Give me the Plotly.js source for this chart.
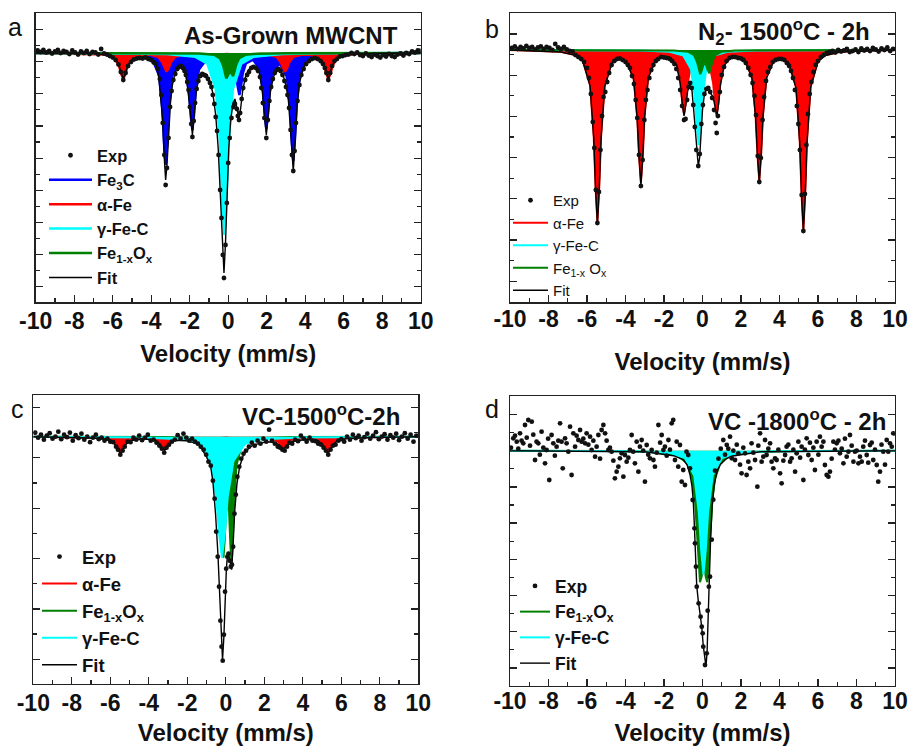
<!DOCTYPE html>
<html><head><meta charset="utf-8">
<script src="https://cdn.plot.ly/plotly-3.0.1.min.js"></script>
<style>html,body{margin:0;padding:0;background:#fff}#chart{width:909px;height:746px}</style>
</head><body><div id="chart"></div>
<script>
// ---------- tick labels ----------
const velTicks = [-10,-8,-6,-4,-2,0,2,4,6,8,10];
const velTickText = ['-10','-8','-6','-4','-2','0','2','4','6','8','10'];

// ---------- Panel a : As-Grown MWCNT  ([velocity mm/s, relative transmission %]) ----------
const expA = [[-9.9,100.25],[-9.75,100.1],[-9.6,100.3],[-9.45,100.05],[-9.3,100.2],[-9.15,99.95],[-9.0,100.15],[-8.85,100.3],[-8.7,100.0],[-8.55,100.2],[-8.4,100.1],[-8.25,99.9],[-8.1,100.25],[-7.95,100.05],[-7.8,99.85],[-7.65,100.15],[-7.5,100.0],[-7.35,100.2],[-7.2,99.9],[-7.05,100.1],[-6.9,100.05],[-6.75,99.85],[-6.6,100.4],[-6.45,99.95],
[-6.3,99.85],[-6.15,99.7],[-6.0,99.55],[-5.85,99.3],[-5.7,98.85],[-5.58,98.1],[-5.45,97.3],[-5.33,98.0],[-5.2,98.7],[-5.05,99.1],[-4.9,99.35],[-4.75,99.45],[-4.6,99.5],[-4.45,99.45],[-4.3,99.55],[-4.15,99.4],[-4.0,99.3],[-3.87,99.05],[-3.75,98.9],[-3.65,98.4],[-3.55,97.4],[-3.47,95.8],[-3.4,93.0],[-3.32,89.8],[-3.25,86.8],[-3.18,88.5],[-3.1,91.5],[-3.02,94.6],[-2.94,96.2],[-2.85,97.3],[-2.75,97.9],[-2.65,98.4],[-2.55,98.6],[-2.45,98.7],[-2.35,98.5],[-2.27,98.2],[-2.2,97.8],[-2.13,97.1],[-2.06,96.3],[-1.99,94.6],[-1.92,92.9],[-1.86,91.6],[-1.79,93.2],[-1.72,95.0],[-1.64,96.4],[-1.55,97.2],[-1.45,97.7],[-1.35,97.9],[-1.25,97.8],[-1.15,97.7],[-1.05,97.4],[-0.95,97.0],[-0.87,96.6],[-0.8,95.8],[-0.72,94.9],[-0.65,93.6],[-0.58,92.2],[-0.5,89.8],[-0.42,86.3],[-0.35,83.5],[-0.28,79.8],[-0.22,77.5],[-0.14,80.8],[-0.07,85.0],[0.0,89.0],[0.08,91.5],[0.17,93.5],[0.27,94.6],[0.35,94.9],[0.45,94.4],[0.5,93.7],[0.56,93.3],[0.62,94.0],[0.7,95.4],[0.78,96.5],[0.88,97.3],[0.98,97.8],[1.08,98.1],[1.2,98.5],[1.32,98.6],[1.45,98.5],[1.55,98.2],[1.65,97.6],[1.72,96.5],[1.8,95.0],[1.88,93.5],[1.98,91.5],[2.06,93.3],[2.14,95.2],[2.23,96.6],[2.32,97.4],[2.42,98.0],[2.52,98.3],[2.62,98.4],[2.72,98.2],[2.82,97.8],[2.92,97.2],[3.0,96.6],[3.08,95.8],[3.16,94.5],[3.24,92.3],[3.31,89.8],[3.38,88.2],[3.45,90.2],[3.52,93.0],[3.6,95.2],[3.7,96.8],[3.8,97.8],[3.92,98.4],[4.05,98.9],[4.2,99.2],[4.35,99.4],[4.5,99.5],[4.65,99.4],[4.8,99.2],[4.92,98.9],[5.02,98.5],[5.1,98.0],[5.2,97.3],[5.3,98.0],[5.4,98.7],[5.52,99.2],[5.65,99.4],[5.8,99.65],[5.95,99.7],[6.1,99.8],[6.25,99.85],[6.4,100.0],
[6.55,99.9],[6.7,100.05],[6.85,99.8],[7.0,99.7],[7.15,99.95],[7.3,99.75],[7.45,99.6],[7.6,99.85],[7.75,99.7],[7.9,99.55],[8.05,99.8],[8.2,99.65],[8.35,99.9],[8.5,99.7],[8.65,99.6],[8.8,99.85],[8.95,99.95],[9.1,99.75],[9.25,100.0],[9.4,99.9],[9.55,100.15],[9.7,100.05],[9.85,100.25],[9.97,100.2]];
const fitA = [[-10,100],[-8,99.97],[-7,99.94],[-6.5,99.85],[-6.1,99.65],[-5.85,99.35],[-5.7,98.9],[-5.58,98.2],[-5.45,97.4],[-5.33,98.1],[-5.2,98.8],[-5.05,99.25],[-4.85,99.5],[-4.5,99.6],[-4.2,99.57],[-3.95,99.4],[-3.75,99.0],[-3.6,97.5],[-3.5,95.5],[-3.4,93.2],[-3.32,89.5],[-3.25,87.3],[-3.18,88.8],[-3.1,91.8],[-3.0,95.0],[-2.9,96.8],[-2.75,98.1],[-2.55,98.7],[-2.35,98.6],[-2.2,98.0],[-2.08,96.3],[-1.97,94.2],[-1.86,91.8],[-1.76,94.0],[-1.66,96.2],[-1.52,97.5],[-1.35,98.0],[-1.15,97.9],[-0.95,97.2],[-0.8,96.0],[-0.65,93.8],[-0.52,90.5],[-0.42,86.5],[-0.32,81.5],[-0.22,78.0],[-0.14,81.0],[-0.06,86.0],[0.03,90.5],[0.13,93.3],[0.25,95.0],[0.35,95.4],[0.45,94.6],[0.56,93.5],[0.65,94.5],[0.75,96.2],[0.88,97.5],[1.05,98.3],[1.25,98.7],[1.45,98.6],[1.62,98.0],[1.77,96.2],[1.88,93.8],[1.98,91.8],[2.08,93.8],[2.2,96.2],[2.35,97.6],[2.52,98.4],[2.7,98.3],[2.85,97.8],[3.0,96.8],[3.13,95.2],[3.25,92.0],[3.38,88.2],[3.48,91.2],[3.58,94.8],[3.7,97.0],[3.9,98.5],[4.15,99.2],[4.45,99.5],[4.7,99.4],[4.9,99.1],[5.02,98.6],[5.1,98.1],[5.2,97.4],[5.3,98.1],[5.42,98.8],[5.6,99.35],[5.85,99.65],[6.3,99.82],[7,99.93],[8,99.97],[10,100]];
const fe3cA = [[-10,100],[-6,99.95],[-4.6,99.8],[-3.93,99.34],[-3.59,97.76],[-3.42,94.4],[-3.335,91.04],[-3.25,88.8],[-3.165,91.04],[-3.08,94.4],[-2.91,97.76],[-2.55,98.9],[-2.2,98.17],[-2.03,95.95],[-1.945,93.7],[-1.86,92.3],[-1.775,93.84],[-1.69,96.15],[-1.52,98.36],[-1.15,99.3],[-0.79,99.06],[-0.62,97.9],[-0.535,96.64],[-0.45,95.8],[-0.365,96.64],[-0.28,97.9],[-0.11,98.92],[0.065,99.18],[0.24,98.92],[0.41,97.9],[0.495,96.64],[0.58,95.8],[0.665,96.64],[0.75,97.9],[0.92,98.97],[1.3,99.33],[1.64,98.38],[1.81,96.2],[1.895,93.92],[1.98,92.4],[2.065,93.92],[2.15,96.2],[2.32,98.21],[2.68,98.95],[3.04,97.67],[3.21,94.6],[3.295,91.36],[3.38,89.2],[3.465,91.36],[3.55,94.6],[3.72,97.84],[4.06,99.36],[4.8,99.82],[6,99.95],[10,100]];
const alphaFeA = [[-10,100],[-7.2,99.94],[-6.33,99.85],[-5.89,99.48],[-5.67,98.7],[-5.56,97.92],[-5.45,97.4],[-5.34,97.92],[-5.23,98.7],[-5.01,99.48],[-4.57,99.82],[-4.08,99.85],[-3.64,99.63],[-3.42,99.07],[-3.31,98.5],[-3.2,98.13],[-3.09,98.5],[-2.98,99.07],[-2.76,99.63],[-2.32,99.87],[-1.83,99.9],[-1.39,99.82],[-1.17,99.6],[-1.06,99.36],[-0.95,99.2],[-0.84,99.36],[-0.73,99.6],[-0.51,99.82],[-0.07,99.9],[0.36,99.82],[0.58,99.6],[0.69,99.36],[0.8,99.2],[0.91,99.36],[1.02,99.6],[1.24,99.82],[1.68,99.9],[2.07,99.87],[2.51,99.63],[2.73,99.07],[2.84,98.5],[2.95,98.13],[3.06,98.5],[3.17,99.07],[3.39,99.63],[3.83,99.85],[4.32,99.82],[4.76,99.48],[4.98,98.7],[5.09,97.92],[5.2,97.4],[5.31,97.92],[5.42,98.7],[5.64,99.48],[6.08,99.85],[7,99.94],[10,100]];
const gammaFeCA = [[-10,100],[-5,99.97],[-3.2,99.9],[-1.7,99.62],[-1.08,98.93],[-0.64,96.36],[-0.42,90.9],[-0.31,85.44],[-0.2,81.8],[-0.09,85.44],[0.02,90.9],[0.24,96.36],[0.68,98.93],[1.3,99.62],[2.8,99.9],[5,99.97],[10,100]];
const feOxA = [[-10,100],[-3,99.98],[-1.5,99.95],[-0.74,99.82],[-0.42,99.45],[-0.26,98.73],[-0.18,98.02],[-0.1,97.45],[0,97.84],[0.075,98.09],[0.17,97.97],[0.25,97.68],[0.33,98.15],[0.41,98.8],[0.57,99.48],[0.89,99.82],[1.5,99.93],[3,99.98],[10,100]];

// ---------- Panel b : N2 - 1500 C - 2h ----------
const expB = [[-9.9,100.2],[-9.75,100.35],[-9.6,100.1],[-9.45,100.3],[-9.3,100.15],[-9.15,100.4],[-9.0,100.2],[-8.85,100.3],[-8.7,100.05],[-8.55,100.25],[-8.4,100.35],[-8.25,100.1],[-8.1,100.3],[-7.95,100.2],[-7.8,100.0],[-7.65,100.6],[-7.5,100.25],[-7.35,100.1],[-7.2,100.3],[-7.05,100.05],[-6.9,99.9],[-6.75,99.85],
[-6.6,99.5],[-6.45,99.3],[-6.3,99.1],[-6.15,98.8],[-6.0,98.2],[-5.9,97.2],[-5.8,95.6],[-5.7,92.8],[-5.62,90.2],[-5.54,86.0],[-5.46,82.7],[-5.38,85.8],[-5.3,90.0],[-5.22,93.4],[-5.14,95.3],[-5.05,95.8],[-4.95,96.8],[-4.85,97.7],[-4.72,98.5],[-4.58,98.9],[-4.45,99.1],[-4.3,99.15],[-4.15,99.0],[-4.0,98.8],[-3.88,98.5],[-3.77,98.2],[-3.66,97.4],[-3.56,96.6],[-3.47,95.0],[-3.39,93.2],[-3.3,89.5],[-3.2,86.4],[-3.11,89.0],[-3.02,93.0],[-2.94,95.0],[-2.86,96.0],[-2.76,97.2],[-2.66,98.0],[-2.55,98.5],[-2.42,98.9],[-2.3,99.1],[-2.15,99.3],[-2.0,99.25],[-1.85,99.2],[-1.7,99.1],[-1.58,98.9],[-1.46,98.6],[-1.36,98.1],[-1.26,97.2],[-1.16,96.0],[-1.06,94.4],[-0.96,93.0],[-0.88,93.1],[-0.8,95.0],[-0.72,96.3],[-0.64,96.7],[-0.56,96.2],[-0.48,94.5],[-0.4,92.3],[-0.32,90.0],[-0.22,88.4],[-0.14,89.6],[-0.06,92.6],[0.02,94.5],[0.1,95.6],[0.2,96.1],[0.3,96.2],[0.4,95.8],[0.5,95.2],[0.6,94.0],[0.68,92.7],[0.74,91.7],[0.8,93.4],[0.9,95.8],[1.0,97.5],[1.12,98.3],[1.25,98.9],[1.4,99.2],[1.55,99.3],[1.7,99.3],[1.85,99.2],[2.0,99.15],[2.12,99.0],[2.25,98.7],[2.38,98.2],[2.5,97.5],[2.6,96.7],[2.7,95.4],[2.78,93.5],[2.87,89.4],[2.95,86.8],[3.03,89.2],[3.12,93.0],[3.2,95.3],[3.3,96.9],[3.4,97.8],[3.52,98.3],[3.65,98.8],[3.8,99.0],[3.95,99.1],[4.1,99.1],[4.25,99.0],[4.38,98.7],[4.5,98.4],[4.6,97.9],[4.7,97.2],[4.8,96.0],[4.9,94.4],[4.98,92.6],[5.06,90.0],[5.15,85.5],[5.24,81.9],[5.32,85.6],[5.4,90.5],[5.48,93.6],[5.57,95.6],[5.66,96.8],[5.76,97.8],[5.88,98.5],[6.0,98.9],[6.15,99.3],[6.3,99.5],[6.45,99.7],[6.6,99.8],
[6.75,99.9],[6.9,99.75],[7.05,100.0],[7.2,99.85],[7.35,99.95],[7.5,100.1],[7.65,99.8],[7.8,99.9],[7.95,100.05],[8.1,99.8],[8.25,100.15],[8.4,99.95],[8.55,100.1],[8.7,99.9],[8.85,100.2],[9.0,100.05],[9.15,99.85],[9.3,100.15],[9.45,100.0],[9.6,100.25],[9.75,99.9],[9.9,100.1]];
const fitB = [[-10,100],[-8,99.88],[-7.36,99.8],[-6.6,99.47],[-6.22,98.88],[-5.84,96.42],[-5.65,91.2],[-5.555,86.1],[-5.46,82.6],[-5.365,86.1],[-5.27,91.2],[-5.08,96.35],[-4.7,98.75],[-4.33,99.1],[-3.96,98.9],[-3.58,97.1],[-3.39,93.1],[-3.295,89.25],[-3.2,86.5],[-3.105,89.25],[-3.01,93.25],[-2.82,97.2],[-2.44,99.0],[-2.08,99.33],[-1.72,99.3],[-1.34,98.5],[-1.15,96.6],[-1.055,94.7],[-0.96,93.4],[-0.865,94.5],[-0.77,95.9],[-0.65,96.6],[-0.55,96.0],[-0.45,93.8],[-0.35,91.2],[-0.28,89.6],[-0.22,88.4],[-0.15,89.2],[-0.08,91.8],[0.0,94.0],[0.1,95.6],[0.2,96.1],[0.3,96.2],[0.36,96.1],[0.45,95.6],[0.55,95.3],[0.645,94.4],[0.74,93.3],[0.835,94.6],[0.93,96.5],[1.12,98.45],[1.5,99.3],[1.86,99.32],[2.19,99.0],[2.57,97.2],[2.76,93.25],[2.855,89.4],[2.95,86.8],[3.045,89.4],[3.14,93.35],[3.33,97.2],[3.71,98.95],[4.1,99.1],[4.48,98.7],[4.86,96.2],[5.05,90.8],[5.145,85.5],[5.24,81.9],[5.335,85.5],[5.43,90.8],[5.62,96.3],[6.0,98.85],[6.38,99.45],[7.14,99.8],[8,99.88],[10,100]];
const alphaFeB = [[-10,100],[-8,99.9],[-7.36,99.82],[-6.6,99.5],[-6.22,98.93],[-5.84,96.49],[-5.65,91.32],[-5.555,86.24],[-5.46,82.8],[-5.365,86.24],[-5.27,91.3],[-5.08,96.44],[-4.7,98.8],[-4.33,99.14],[-3.96,98.94],[-3.58,97.17],[-3.39,93.2],[-3.295,89.36],[-3.2,86.7],[-3.105,89.36],[-3.01,93.35],[-2.82,97.28],[-2.44,99.07],[-2.08,99.4],[-1.72,99.41],[-1.34,98.61],[-1.15,96.75],[-1.055,94.86],[-0.96,93.55],[-0.865,94.81],[-0.77,96.7],[-0.58,98.54],[-0.11,99.4],[0.36,98.6],[0.55,96.7],[0.645,94.8],[0.74,93.55],[0.835,94.8],[0.93,96.7],[1.12,98.54],[1.5,99.36],[1.86,99.38],[2.19,99.06],[2.57,97.3],[2.76,93.35],[2.855,89.52],[2.95,86.9],[3.045,89.52],[3.14,93.45],[3.33,97.31],[3.71,99.03],[4.1,99.16],[4.48,98.76],[4.86,96.28],[5.05,90.9],[5.145,85.6],[5.24,82.0],[5.335,85.6],[5.43,91.0],[5.62,96.35],[6.0,98.9],[6.38,99.48],[7.14,99.82],[8,99.9],[10,100]];
const gammaFeCB = [[-10,100],[-3.2,99.96],[-1.7,99.83],[-1.0,99.44],[-0.6,98.1],[-0.4,95.25],[-0.3,92.4],[-0.2,90.5],[-0.1,92.4],[0,95.25],[0.2,98.1],[0.6,99.44],[1.3,99.83],[2.8,99.96],[10,100]];
const feOxB = [[-10,100],[-3,99.985],[-1.5,99.955],[-0.76,99.83],[-0.44,99.48],[-0.28,98.77],[-0.2,98.08],[-0.12,97.58],[-0.04,97.94],[0.04,98.46],[0.115,98.67],[0.19,98.48],[0.27,97.99],[0.35,97.67],[0.43,98.15],[0.51,98.81],[0.67,99.48],[0.99,99.82],[1.7,99.95],[3,99.985],[10,100]];

// ---------- Panel c : VC - 1500 C - 2h ----------
const expC = [[-9.9,100.4],[-9.75,99.9],[-9.6,100.2],[-9.45,99.7],[-9.3,100.1],[-9.15,100.35],[-9.0,99.8],[-8.85,100.0],[-8.7,100.5],[-8.55,99.75],[-8.4,100.2],[-8.25,99.95],[-8.1,100.4],[-7.95,99.6],[-7.8,100.15],[-7.65,99.85],[-7.5,100.3],[-7.35,99.7],[-7.2,100.0],[-7.05,99.45],[-6.9,99.9],[-6.75,100.2],[-6.6,99.75],[-6.45,99.9],[-6.3,99.6],[-6.15,99.8],[-6.0,99.5],[-5.85,99.45],[-5.7,99.0],[-5.6,98.7],[-5.48,98.2],[-5.36,98.6],[-5.25,99.0],[-5.1,99.5],[-4.95,99.45],[-4.8,99.9],[-4.65,99.7],[-4.5,100.1],[-4.35,99.65],[-4.2,99.9],[-4.05,100.2],[-3.9,99.6],[-3.75,99.7],[-3.6,99.4],[-3.45,99.1],[-3.32,98.8],[-3.2,98.4],[-3.08,98.9],[-2.95,99.2],[-2.8,99.5],[-2.65,99.7],[-2.5,100.15],[-2.35,99.8],[-2.2,100.3],[-2.05,99.9],[-1.9,99.6],[-1.75,99.8],[-1.6,99.5],[-1.45,99.3],[-1.3,99.0],[-1.15,98.7],[-1.02,98.2],[-0.9,97.5],[-0.78,97.1],[-0.67,95.6],[-0.58,93.8],[-0.5,90.5],[-0.42,88.0],[-0.35,85.0],[-0.28,81.6],[-0.22,79.0],[-0.16,77.6],[-0.1,80.2],[-0.04,84.5],[0.02,86.8],[0.08,88.0],[0.14,88.3],[0.2,87.6],[0.26,87.0],[0.32,87.2],[0.38,89.0],[0.45,92.3],[0.52,94.2],[0.6,96.0],[0.7,97.0],[0.8,97.8],[0.92,98.3],[1.05,98.6],[1.2,99.0],[1.35,99.4],[1.5,99.1],[1.65,99.6],[1.8,99.3],[1.95,99.8],[2.1,99.5],[2.25,100.7],[2.4,99.6],[2.55,99.3],[2.7,99.0],[2.82,98.9],[2.94,98.7],[3.06,98.6],[3.18,99.0],[3.3,99.4],[3.45,99.3],[3.6,99.7],[3.75,99.55],[3.9,100.1],[4.05,99.8],[4.2,99.5],[4.35,99.9],[4.5,99.6],[4.65,99.55],[4.8,99.3],[4.95,99.2],[5.08,98.9],[5.2,98.6],[5.32,98.2],[5.44,98.7],[5.56,99.1],[5.7,99.2],[5.85,99.6],[6.0,99.75],[6.15,99.5],[6.3,100.0],[6.45,99.7],[6.6,100.2],[6.75,99.85],[6.9,100.1],[7.05,99.6],[7.2,99.95],[7.35,100.3],[7.5,99.8],[7.65,100.1],[7.8,100.45],[7.95,99.75],[8.1,100.0],[8.25,100.25],[8.4,99.7],[8.55,100.15],[8.7,99.9],[8.85,100.3],[9.0,99.65],[9.15,100.0],[9.3,100.35],[9.45,99.8],[9.6,100.2],[9.75,99.5],[9.9,100.1]];
const fitC = [[-10,100],[-7.5,99.92],[-6.48,99.85],[-5.98,99.64],[-5.73,99.17],[-5.605,98.69],[-5.48,98.36],[-5.355,98.69],[-5.23,99.17],[-4.98,99.6],[-4.33,99.8],[-3.68,99.66],[-3.43,99.3],[-3.305,98.9],[-3.18,98.64],[-3.055,98.9],[-2.93,99.3],[-2.68,99.65],[-2.05,99.6],[-1.6,99.35],[-1.36,99.15],[-1.01,98.0],[-0.8,97.2],[-0.67,95.5],[-0.53,92.2],[-0.41,88.3],[-0.32,84.0],[-0.25,80.0],[-0.17,77.7],[-0.1,80.0],[-0.03,84.0],[0.03,86.8],[0.08,88.0],[0.15,88.1],[0.22,87.6],[0.3,86.7],[0.37,88.8],[0.46,92.5],[0.58,95.3],[0.72,97.0],[0.9,98.1],[1.06,98.6],[1.4,99.15],[1.76,99.35],[2.1,99.5],[2.5,99.45],[2.75,99.22],[2.875,98.98],[3.0,98.8],[3.125,98.98],[3.25,99.22],[3.5,99.55],[4.15,99.72],[4.8,99.6],[5.05,99.14],[5.175,98.66],[5.3,98.34],[5.425,98.66],[5.55,99.14],[5.8,99.62],[6.3,99.82],[7.5,99.92],[10,100]];
const alphaFeC = [[-10,100],[-7.5,99.94],[-6.48,99.88],[-5.98,99.68],[-5.73,99.2],[-5.605,98.72],[-5.48,98.4],[-5.355,98.72],[-5.23,99.2],[-4.98,99.65],[-4.33,99.86],[-3.68,99.71],[-3.43,99.35],[-3.305,98.96],[-3.18,98.7],[-3.055,98.96],[-2.93,99.35],[-2.68,99.71],[-2.05,99.86],[-1.43,99.86],[-1.18,99.7],[-1.055,99.52],[-0.93,99.4],[-0.805,99.52],[-0.68,99.7],[-0.43,99.84],[0.05,99.91],[0.3,99.84],[0.55,99.7],[0.675,99.52],[0.8,99.4],[0.925,99.52],[1.05,99.7],[1.3,99.86],[1.9,99.9],[2.5,99.72],[2.75,99.425],[2.875,99.08],[3.0,98.85],[3.125,99.08],[3.25,99.425],[3.5,99.75],[4.15,99.87],[4.8,99.66],[5.05,99.2],[5.175,98.72],[5.3,98.4],[5.425,98.72],[5.55,99.2],[5.8,99.68],[6.3,99.88],[7.5,99.94],[10,100]];
const feOxC = [[-10,100],[-3,99.96],[-1.5,99.84],[-0.9,99.55],[-0.64,99.11],[-0.38,97.36],[-0.25,93.9],[-0.185,90.43],[-0.12,87.9],[-0.055,89.7],[0.01,92.4],[0.09,93.6],[0.17,92.45],[0.235,89.3],[0.3,87.04],[0.365,89.7],[0.43,93.4],[0.56,97.2],[0.82,99.06],[1.2,99.59],[2.0,99.88],[3.5,99.96],[10,100]];
const gammaFeCC = [[-10,100],[-4.2,99.93],[-2.2,99.73],[-1.4,99.29],[-0.8,97.58],[-0.5,93.95],[-0.35,90.32],[-0.2,87.9],[-0.05,90.32],[0.1,93.95],[0.4,97.58],[1.0,99.29],[1.8,99.73],[3.8,99.93],[10,100]];

// ---------- Panel d : VC - 1800 C - 2h ----------
const expD = [[-9.83,101.24],[-9.65,100.9],[-9.48,101.74],[-9.31,100.74],[-9.22,102.57],[-9.05,103.07],[-8.87,102.9],[-8.7,99.07],[-8.53,100.74],[-8.36,101.9],[-8.18,98.74],[-8.1,100.07],[-7.96,97.07],[-7.84,101.57],[-7.75,100.74],[-7.58,100.4],[-7.4,102.74],[-7.26,98.24],[-7.14,101.24],[-7.06,100.74],[-6.88,102.4],[-6.8,97.57],[-6.71,101.74],[-6.62,100.4],[-6.45,101.07],[-6.36,102.07],[-6.28,100.9],[-6.1,100.74],[-6.02,101.74],[-5.84,101.4],[-5.76,100.07],[-5.58,99.4],[-5.41,101.57],[-5.24,102.07],[-5.15,102.57],[-5.06,101.74],[-4.89,100.07],[-4.72,99.9],[-4.55,97.24],[-4.46,97.9],[-4.37,98.4],[-4.29,99.24],[-4.2,99.74],[-4.11,97.4],[-4.03,99.57],[-3.94,98.9],[-3.77,100.07],[-3.68,101.57],[-3.51,98.74],[-3.42,100.9],[-3.33,97.9],[-3.25,100.4],[-3.16,101.07],[-2.99,96.9],[-2.9,100.57],[-2.73,99.24],[-2.64,100.07],[-2.55,99.07],[-2.47,98.4],[-2.29,102.57],[-2.12,101.57],[-2.03,100.07],[-1.95,100.4],[-1.77,101.07],[-1.6,102.74],[-1.52,103.07],[-1.43,99.07],[-1.26,98.4],[-1.17,100.57],[-1.08,96.9],[-1.0,98.07],[-0.91,96.57],[-0.74,99.57],
[-9.95,100.3],[-9.74,101.5],[-9.57,100.2],[-9.4,101.0],[-9.13,101.3],[-8.96,100.5],[-8.79,101.6],[-8.62,100.9],[-8.45,99.6],[-8.27,100.3],[-8.02,101.2],[-7.67,99.5],[-7.49,101.0],[-7.32,100.9],[-6.97,99.9],[-6.54,101.5],[-6.19,101.2],[-5.93,100.6],[-5.67,101.0],[-5.5,100.4],[-5.32,99.2],[-4.98,101.0],[-4.81,100.3],[-4.63,99.0],[-3.85,99.3],[-3.6,99.9],[-3.08,100.0],[-2.82,99.6],[-2.38,99.8],[-2.2,100.8],[-1.86,99.5],[-1.69,100.1],[-1.34,100.9],[-0.83,99.9],
[-0.65,98.24],[-0.51,95.07],[-0.42,92.24],[-0.39,90.74],[-0.34,88.4],[-0.3,86.4],[-0.2,84.74],[-0.1,83.4],[-0.04,82.4],[0.01,81.74],[0.04,80.4],[0.13,78.57],[0.22,79.74],[0.27,84.0],[0.33,86.4],[0.39,87.4],[0.48,91.1],[0.56,95.1],[0.65,98.0],[0.83,99.2],
[1.08,101.07],[1.26,100.57],[1.43,101.4],[1.52,99.24],[1.69,99.07],[1.86,99.74],[2.03,97.74],[2.21,99.74],[2.29,97.57],[2.38,98.9],[2.47,98.24],[2.55,100.74],[2.73,99.07],[2.85,96.4],[2.99,101.74],[3.07,98.9],[3.25,101.07],[3.33,99.57],[3.51,100.74],[3.68,98.24],[3.77,99.24],[3.85,99.07],[4.03,97.74],[4.11,96.74],[4.29,99.57],[4.37,100.4],[4.55,98.9],[4.63,99.24],[4.81,97.9],[4.89,99.74],[4.98,100.9],[5.15,100.4],[5.24,97.07],[5.41,101.24],[5.5,99.57],[5.67,99.07],[5.84,98.07],[5.93,100.9],[6.1,101.4],[6.19,100.4],[6.36,98.57],[6.45,97.57],[6.54,97.4],[6.62,97.9],[6.8,100.9],[6.97,100.74],[7.14,99.74],[7.32,98.74],[7.49,99.4],[7.66,101.57],[7.84,98.9],[7.92,99.9],[8.1,98.74],[8.27,98.9],[8.35,100.4],[8.53,99.57],[8.7,100.57],[8.87,99.07],[9.05,98.57],[9.13,96.9],[9.22,97.9],[9.39,99.9],[9.57,101.07],[9.74,100.74],[9.91,101.74],
[0.95,100.2],[1.17,99.6],[1.34,100.2],[1.6,100.0],[1.78,100.6],[1.95,98.6],[2.12,100.3],[2.64,99.8],[2.9,100.5],[3.16,99.4],[3.42,100.2],[3.59,98.9],[3.94,100.1],[4.2,99.0],[4.46,100.6],[4.72,100.1],[5.07,99.3],[5.32,100.1],[5.58,100.8],[5.76,100.3],[6.02,99.6],[6.28,100.9],[6.71,99.2],[6.88,100.1],[7.06,101.0],[7.23,100.2],[7.4,101.2],[7.58,99.9],[7.75,100.5],[8.01,100.0],[8.18,99.4],[8.44,101.0],[8.61,98.8],[8.79,100.8],[8.96,100.1],[9.3,100.6],[9.48,98.6],[9.65,99.9],[9.83,100.4]];
const fitD = [[-10,100],[-3,99.9],[-1.5,99.5],[-1.0,99.1],[-0.8,98.6],[-0.65,97.6],[-0.55,96.5],[-0.48,95.0],[-0.42,92.4],[-0.36,89.2],[-0.3,86.5],[-0.22,85.0],[-0.12,83.7],[-0.04,82.4],[0.04,80.5],[0.13,78.7],[0.18,78.4],[0.24,80.0],[0.3,84.0],[0.36,88.0],[0.42,91.2],[0.5,94.4],[0.6,96.5],[0.75,97.9],[0.92,98.6],[1.2,99.15],[1.5,99.45],[3,99.9],[10,100]];
const feOxD = [[-10,100],[-5,99.97],[-2.5,99.87],[-1.3,99.51],[-0.8,98.74],[-0.53,97.17],[-0.39,95.03],[-0.29,92.11],[-0.21,88.97],[-0.13,86.86],[-0.05,87.37],[0.06,88.65],[0.17,87.37],[0.25,86.86],[0.33,88.97],[0.41,92.11],[0.51,95.03],[0.65,97.17],[0.92,98.74],[1.42,99.51],[2.62,99.87],[5.1,99.97],[10,100]];
const gammaFeCD = [[-10,100],[-3.55,99.945],[-1.75,99.78],[-0.91,99.27],[-0.43,97.52],[-0.19,93.8],[-0.07,90.08],[0.05,87.6],[0.17,90.08],[0.29,93.8],[0.53,97.52],[1.01,99.27],[1.85,99.78],[3.65,99.945],[10,100]];

// ---------- colours / names ----------
const RED = '#ff0000', BLUE = '#0000ff', CYAN = '#00ffff', GREEN = '#008000';
const FONT = 'Liberation Sans, Arial, Helvetica, sans-serif';

const col = (pts, i) => pts.map(p => p[i]);
const traces = [];
function component(pts, color, name, ax, leg, rank, lw) {
  const xa = 'x' + ax, ya = 'y' + ax;
  traces.push({x: col(pts,0), y: col(pts,1), xaxis: xa, yaxis: ya, type: 'scatter', mode: 'lines',
    fill: 'toself', fillcolor: color, line: {width: 0, color: color}, showlegend: false, hoverinfo: 'skip'});
  traces.push({x: col(pts,0), y: col(pts,1), xaxis: xa, yaxis: ya, type: 'scatter', mode: 'lines',
    name: name, line: {width: lw, color: color}, legend: leg, legendrank: rank, hoverinfo: 'skip'});
}
function fitLine(pts, ax, leg, rank) {
  traces.push({x: col(pts,0), y: col(pts,1), xaxis: 'x' + ax, yaxis: 'y' + ax, type: 'scatter', mode: 'lines',
    name: 'Fit', line: {width: 1.4, color: '#000'}, legend: leg, legendrank: rank});
}
function expPts(pts, ax, leg, rank) {
  traces.push({x: col(pts,0), y: col(pts,1), xaxis: 'x' + ax, yaxis: 'y' + ax, type: 'scatter', mode: 'markers',
    name: 'Exp', marker: {size: 4.8, color: '#111'}, legend: leg, legendrank: rank});
}
// panel a
component(fe3cA, BLUE, 'Fe<sub>3</sub>C', '', 'legend', 2, 2.5);
component(alphaFeA, RED, 'α-Fe', '', 'legend', 3, 2.5);
component(gammaFeCA, CYAN, 'γ-Fe-C', '', 'legend', 4, 2.5);
component(feOxA, GREEN, 'Fe<sub>1-x</sub>O<sub>x</sub>', '', 'legend', 5, 2.5);
fitLine(fitA, '', 'legend', 6);
expPts(expA, '', 'legend', 1);
// panel b
component(alphaFeB, RED, 'α-Fe', '2', 'legend2', 2, 2);
component(gammaFeCB, CYAN, 'γ-Fe-C', '2', 'legend2', 3, 2);
component(feOxB, GREEN, 'Fe<sub>1-x</sub> O<sub>x</sub>', '2', 'legend2', 4, 2);
fitLine(fitB, '2', 'legend2', 5);
expPts(expB, '2', 'legend2', 1);
// panel c
component(alphaFeC, RED, 'α-Fe', '3', 'legend3', 2, 2);
component(feOxC, GREEN, 'Fe<sub>1-x</sub>O<sub>x</sub>', '3', 'legend3', 3, 2);
component(gammaFeCC, CYAN, 'γ-Fe-C', '3', 'legend3', 4, 2);
fitLine(fitC, '3', 'legend3', 5);
expPts(expC, '3', 'legend3', 1);
// panel d
component(feOxD, GREEN, 'Fe<sub>1-x</sub>O<sub>x</sub>', '4', 'legend4', 2, 2);
component(gammaFeCD, CYAN, 'γ-Fe-C', '4', 'legend4', 3, 2);
fitLine(fitD, '4', 'legend4', 4);
expPts(expD, '4', 'legend4', 1);

// ---------- axes ----------
const W = 909, H = 746;
function xAxis(left, right, anchor, standoff, labelShift) {
  return {domain: [left / W, right / W], anchor: anchor, range: [-10, 10], tickmode: 'array',
    tickvals: velTicks, ticktext: velTickText, ticks: 'inside', ticklen: 7, tickwidth: 1.2, tickcolor: '#222',
    ticklabelstandoff: labelShift,
    minor: {tickmode: 'linear', tick0: -10, dtick: 1, ticks: 'inside', ticklen: 4, tickwidth: 1.2, tickcolor: '#222'},
    showline: true, linecolor: '#222', linewidth: 1.3, mirror: true, showgrid: false, zeroline: false,
    tickfont: {family: FONT, size: 23, weight: 'bold', color: '#111'},
    title: {text: 'Velocity (mm/s)', font: {family: FONT, size: 24, weight: 'bold', color: '#111'}, standoff: standoff},
    automargin: false, fixedrange: true};
}
function yAxis(topPx, botPx, anchor, range, tick0, dtick) {
  return {domain: [1 - botPx / H, 1 - topPx / H], anchor: anchor, range: range, tickmode: 'linear', tick0: tick0, dtick: dtick,
    ticks: 'inside', ticklen: 7, tickwidth: 1.2, tickcolor: '#222', showticklabels: false,
    minor: {tickmode: 'linear', tick0: tick0, dtick: dtick / 2, ticks: 'inside', ticklen: 4, tickwidth: 1.2, tickcolor: '#222'},
    showline: true, linecolor: '#222', linewidth: 1.3, mirror: 'ticks', showgrid: false, zeroline: false,
    automargin: false, fixedrange: true};
}
function legendAt(xPx, yPx, size, bold, iw) {
  return {x: xPx / W, y: 1 - yPx / H, xanchor: 'left', yanchor: 'top', bgcolor: 'rgba(0,0,0,0)', borderwidth: 0,
    font: {family: FONT, size: size, weight: bold ? 'bold' : 'normal', color: '#111'}, itemwidth: iw,
    traceorder: 'normal', tracegroupgap: 0};
}
function ann(text, xPx, yPx, size, bold) {
  return {text: text, x: xPx / W, y: 1 - yPx / H, xref: 'paper', yref: 'paper', showarrow: false,
    xanchor: 'center', yanchor: 'middle', font: {family: FONT, size: size, weight: bold ? 'bold' : 'normal', color: '#111'}};
}

const layout = {
  width: W, height: H, margin: {l: 0, r: 0, t: 0, b: 0}, paper_bgcolor: '#fff', plot_bgcolor: '#fff',
  font: {family: FONT, color: '#111'}, showlegend: true,
  xaxis: xAxis(35.7, 420.7, 'y', 12, -2),
  yaxis: yAxis(13.3, 302.3, 'x', [75.07, 103.97], 102.37, 3.22),
  xaxis2: xAxis(510, 895, 'y2', 22, -4),
  yaxis2: yAxis(13.3, 302.3, 'x2', [74.77, 103.67], 101.6, 4.12),
  xaxis3: xAxis(33.3, 418.3, 'y3', 10, -2),
  yaxis3: yAxis(395, 684, 'x3', [75.27, 104.17], 102.94, 5.04),
  xaxis4: xAxis(510, 895, 'y4', 28, -6),
  yaxis4: yAxis(396, 686, 'x4', [76.47, 105.47], 100, 3.62),
  legend: legendAt(44, 138, 16.5, true, 43),
  legend2: legendAt(508, 184, 15, false, 35),
  legend3: legendAt(37, 538, 18.5, true, 35),
  legend4: legendAt(515, 568, 17.5, true, 30),
  annotations: [
    ann('a', 15, 27, 25, false),
    ann('b', 492, 29, 25, false),
    ann('c', 17, 409, 25, false),
    ann('d', 492, 409, 25, false),
    ann('As-Grown MWCNT', 290.5, 35, 24, true),
    ann('N<sub>2</sub>- 1500<sup>o</sup>C - 2h', 784, 32, 24, true),
    ann('VC-1500<sup>o</sup>C-2h', 321, 415, 24, true),
    ann('VC -1800<sup>o</sup>C - 2h', 797, 420, 24, true)
  ]
};
Plotly.newPlot('chart', traces, layout, {staticPlot: true, displayModeBar: false});
</script></body></html>
